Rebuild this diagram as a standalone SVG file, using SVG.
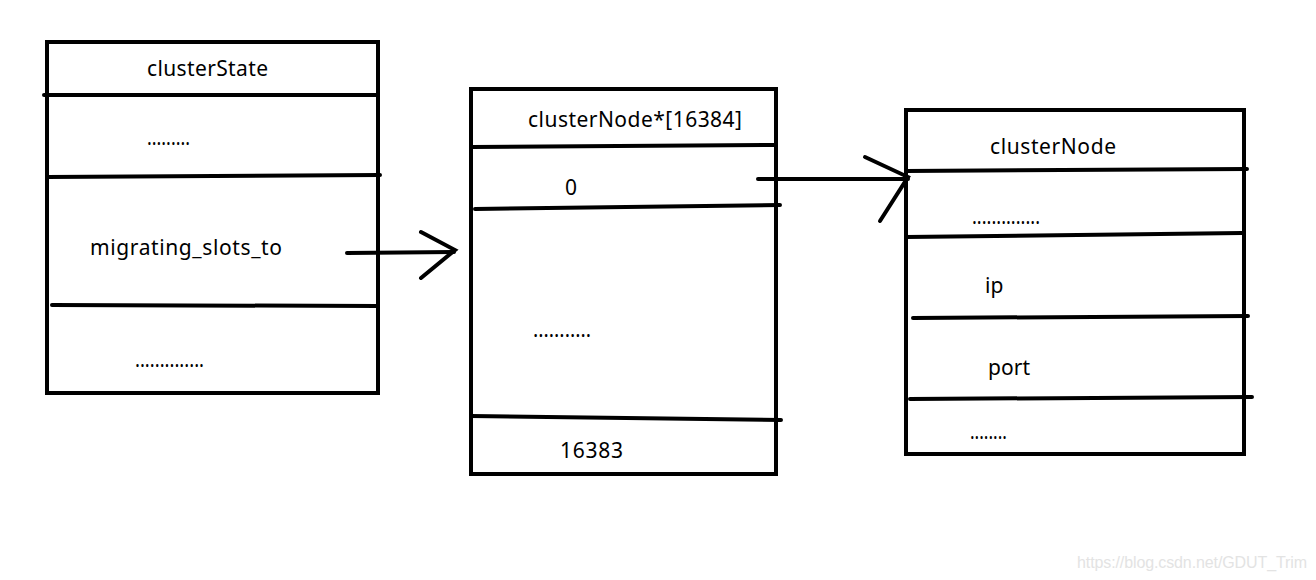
<svg xmlns="http://www.w3.org/2000/svg" width="1316" height="580" viewBox="0 0 1316 580">
<style>
.b{fill:none;stroke:#000;stroke-width:4}
.l{stroke:#000;stroke-width:4;stroke-linecap:round;fill:none}
.t{font-family:"Noto Sans","Open Sans",sans-serif;font-size:21px;fill:#000}
.w{font-family:"Liberation Sans",Arial,sans-serif;font-size:16px;fill:#e3e3e3}
</style>
<rect width="1316" height="580" fill="#fff"/>
<g id="clusterState">
<rect class="b" x="47" y="42" width="331" height="351"/>
<line class="l" x1="44" y1="95" x2="378" y2="95"/>
<line class="l" x1="47" y1="177" x2="380" y2="175"/>
<line class="l" x1="52" y1="305" x2="378" y2="306"/>
<text class="t" x="147" y="76" textLength="121">clusterState</text>
<text class="t" x="147" y="145" textLength="43" lengthAdjust="spacingAndGlyphs">.........</text>
<text class="t" x="90" y="255" textLength="192">migrating_slots_to</text>
<text class="t" x="135" y="367" textLength="69" lengthAdjust="spacingAndGlyphs">..............</text>
</g>
<g id="slots">
<rect class="b" x="471" y="89" width="305" height="385"/>
<line class="l" x1="472" y1="147" x2="775" y2="145"/>
<line class="l" x1="475" y1="209" x2="780" y2="205"/>
<line class="l" x1="471" y1="416" x2="781" y2="420"/>
<text class="t" x="528" y="127" textLength="214">clusterNode*[16384]</text>
<text class="t" x="565" y="195">0</text>
<text class="t" x="533" y="337" textLength="58" lengthAdjust="spacingAndGlyphs">...........</text>
<text class="t" x="560" y="458" textLength="63">16383</text>
</g>
<g id="clusterNode">
<rect class="b" x="906" y="110" width="338" height="344"/>
<line class="l" x1="906" y1="171" x2="1247" y2="169"/>
<line class="l" x1="906" y1="237" x2="1242" y2="233"/>
<line class="l" x1="913" y1="318" x2="1248" y2="316"/>
<line class="l" x1="910" y1="399" x2="1252" y2="397"/>
<text class="t" x="990" y="154" textLength="126">clusterNode</text>
<text class="t" x="972" y="224" textLength="68" lengthAdjust="spacingAndGlyphs">..............</text>
<text class="t" x="985" y="293">ip</text>
<text class="t" x="988" y="375" textLength="42">port</text>
<text class="t" x="970" y="439" textLength="37" lengthAdjust="spacingAndGlyphs">........</text>
</g>
<g id="connectors">
<line class="l" x1="347" y1="253" x2="454" y2="252"/>
<polyline class="l" points="421,232 455,250 421,278"/>
<line class="l" x1="758" y1="179" x2="908" y2="179"/>
<polyline class="l" points="865,157 908,177 880,221"/>
</g>
<text class="w" x="1077" y="568" textLength="230">https://blog.csdn.net/GDUT_Trim</text>
</svg>
